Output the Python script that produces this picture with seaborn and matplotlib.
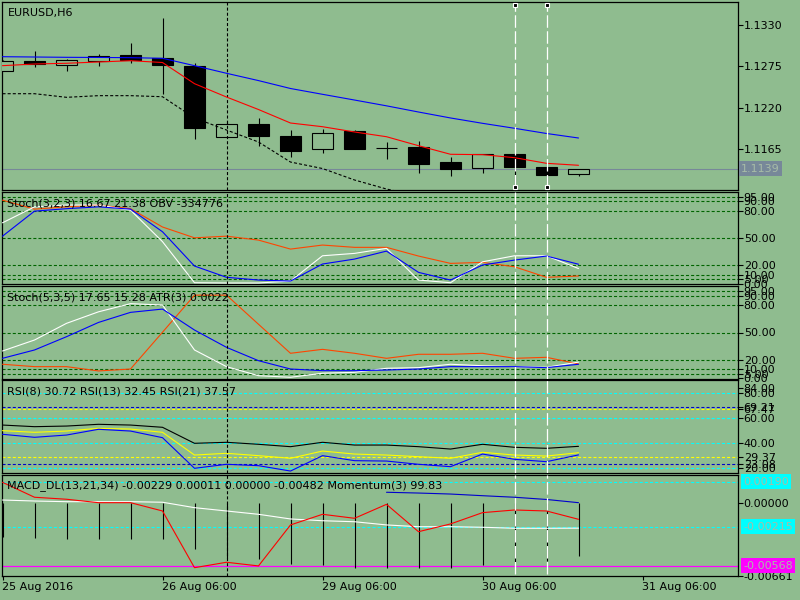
import numpy as np
import pandas as pd
import matplotlib
matplotlib.use("Agg")
import matplotlib.pyplot as plt
import matplotlib.transforms as mtransforms
import seaborn as sns

# EURUSD H6, 19 bars
bars = list(range(19))
opens = [1.12689, 1.12818, 1.12765, 1.12818, 1.12898, 1.12858, 1.12756, 1.11809, 1.11982, 1.11827,
         1.11650, 1.11889, 1.11672, 1.11681, 1.11477, 1.11406, 1.11588, 1.11415, 1.11326]
highs = [1.12830, 1.12955, 1.12845, 1.12915, 1.13061, 1.13393, 1.12792, 1.12012, 1.12066, 1.11906,
         1.11920, 1.11906, 1.11743, 1.11760, 1.11552, 1.11584, 1.11601, 1.11472, 1.11390]
lows = [1.12685, 1.12747, 1.12685, 1.12760, 1.12800, 1.12384, 1.11783, 1.11809, 1.11698, 1.11552,
        1.11597, 1.11658, 1.11525, 1.11339, 1.11300, 1.11339, 1.11154, 1.11207, 1.11300]
closes = [1.12826, 1.12782, 1.12831, 1.12885, 1.12835, 1.12765, 1.11929, 1.11982, 1.11831, 1.11631,
          1.11862, 1.11658, 1.11670, 1.11459, 1.11393, 1.11584, 1.11419, 1.11313, 1.11390]
ma_fast = [1.12760, 1.12782, 1.12792, 1.12809, 1.12826, 1.12802, 1.12521, 1.12344, 1.12178, 1.11999,
           1.11950, 1.11880, 1.11817, 1.11698, 1.11584, 1.11579, 1.11539, 1.11464, 1.11438]
ma_slow = [1.12879, 1.12875, 1.12871, 1.12869, 1.12866, 1.12858, 1.12760, 1.12659, 1.12562, 1.12457,
           1.12380, 1.12304, 1.12227, 1.12145, 1.12066, 1.11995, 1.11929, 1.11860, 1.11800]
lower_band = [1.12388, 1.12388, 1.12340, 1.12362, 1.12362, 1.12348, 1.12066, 1.11906, 1.11747, 1.11481,
              1.11395, 1.11243, 1.11123, 1.11030]
last_price = 1.1139
price_ticks = [1.1165, 1.1220, 1.1275, 1.1330]

# Stoch(3,2,3) + OBV
stoch1_main = [66.6, 84, 86, 86, 80.4, 46, 1.2, 0.9, 0.9, 3.0, 30.6, 33.2, 38.7, 4.1, 1.2, 24.0, 30.6, 30.6, 16.67]
stoch1_signal = [52, 79.3, 82, 84, 81.5, 56.8, 19.4, 7.1, 4.1, 3.0, 21.6, 27.0, 35.7, 12.5, 4.1, 20.5, 25.9, 30.3, 21.38]
obv = [91.3, 81.5, 84, 86, 82, 62, 50.2, 52, 47.7, 37.9, 42.3, 39.8, 39.8, 30.3, 22.3, 23.4, 18.6, 7.1, 8.5]

# Stoch(5,3,5) + ATR
stoch2_main = [29.8, 41.8, 60, 72.6, 81.5, 80, 30.9, 12.7, 2.8, 1.1, 5.5, 6.5, 10.9, 11.6, 15.3, 13.7, 12.7, 12.0, 17.65]
stoch2_signal = [21.8, 30.9, 45.4, 61, 72, 75.6, 52.7, 33.8, 19.2, 10.1, 8.3, 8.3, 9.0, 10.1, 12.7, 12.7, 12.7, 11.6, 15.28]
atr = [15.3, 12.7, 12.7, 8.0, 10.1, 50.3, 90.8, 90.8, 59.0, 27.3, 31.6, 27.3, 21.8, 26.2, 26.2, 27.3, 21.8, 22.9, 15.6]
stoch_levels = [95, 90, 80, 50, 20, 10, 5]
stoch_ticks = [0, 5, 10, 20, 50, 80, 90, 95]

# RSI(8), RSI(13), RSI(21)
rsi8 = [47.2, 44.8, 46.6, 51.2, 49.8, 44.5, 20.0, 23.2, 22.1, 17.8, 30.1, 26.1, 25.8, 23.2, 21.3, 31.4, 27.2, 25.3, 30.72]
rsi13 = [50.1, 48.8, 49.8, 52.0, 51.4, 48.8, 30.6, 32.0, 30.1, 28.0, 33.8, 31.4, 30.6, 29.3, 28.0, 32.8, 30.6, 29.8, 32.45]
rsi21 = [54.6, 53.3, 53.8, 55.2, 54.6, 52.8, 40.0, 40.8, 39.2, 37.3, 40.8, 38.6, 38.6, 37.3, 35.4, 39.2, 36.8, 36.0, 37.57]
rsi_cyan_levels = [80, 60, 40, 20]
rsi_blue_levels = [69.21, 23.08]
rsi_yellow_levels = [67.47, 29.37]
rsi_ticks = [20, 23.08, 29.37, 40, 60, 67.47, 69.21, 80, 84]

# MACD_DL(13,21,34) + Momentum(3)
macd_red = [0.00185, 0.00050, 0.00032, 0.00001, 0.00001, -0.00074, -0.00586, -0.00537, -0.00570, -0.00200,
            -0.00104, -0.00140, -0.00014, -0.00261, -0.00191, -0.00089, -0.00065, -0.00074, -0.00149]
macd_white = [0.00025, 0.00016, 0.00010, 0.00010, 0.00010, 0.00005, -0.00044, -0.00074, -0.00104, -0.00146,
              -0.00162, -0.00171, -0.00200, -0.00216, -0.00216, -0.00221, -0.00230, -0.00230, -0.00229]
macd_hist = [-0.00310, -0.00315, -0.00327, -0.00327, -0.00327, -0.00327, -0.00414, -0.00500, -0.00510, -0.00555,
             -0.00561, -0.00586, -0.00586, -0.00591, -0.00591, -0.00561, -0.00546, -0.00522, -0.00482]
momentum_bars = [12, 13, 14, 15, 16, 17, 18]
momentum = [0.00095, 0.00088, 0.00079, 0.00064, 0.00050, 0.00030, 0.00001]
macd_cyan_levels = [0.00190, -0.00215]
macd_magenta_level = -0.00568

date_ticks = [0, 5, 10, 15, 20]
date_labels = ['25 Aug 2016', '26 Aug 06:00', '29 Aug 06:00', '30 Aug 06:00', '31 Aug 06:00']
marked_bar = 7
selected_bars = [16, 17]

BG = '#8fbc8f'
sns.set_theme(style='white', rc={'axes.facecolor': BG, 'figure.facecolor': BG})
plt.rcParams['font.family'] = ['DejaVu Sans']
plt.rcParams['lines.scale_dashes'] = False
FS = 8
LW = 0.8
dot = (0, (2.2, 1.5))
long_dash = (0, (9, 2.5))

fig = plt.figure(figsize=(8, 6), dpi=100, facecolor=BG)
W, H = 800, 600
left, right = 2, 738
panels_px = [(2, 190), (192, 284), (286, 379), (380, 473), (474.5, 576)]
axes = []
for top, bot in panels_px:
    ax = fig.add_axes([left / W, 1 - bot / H, (right - left) / W, (bot - top) / H])
    axes.append(ax)
ax_main, ax_st1, ax_st2, ax_rsi, ax_macd = axes

xmin = -0.5 / 32
xmax = xmin + (right - left) / 32
for ax in axes:
    ax.set_facecolor(BG)
    for s in ax.spines.values():
        s.set_color('black')
        s.set_linewidth(0.9)
    ax.set_xlim(xmin, xmax)
    ax.yaxis.tick_right()
    ax.tick_params(axis='y', direction='out', length=3.6, width=0.8, pad=0.5,
                   labelsize=FS, colors='black')
    ax.tick_params(axis='x', bottom=False, labelbottom=False)
    ax.axvline(marked_bar, color='black', lw=LW, ls=dot, zorder=4)


def title(ax, txt, dx=5):
    tr = mtransforms.offset_copy(ax.transAxes, fig=fig, x=dx, y=-11, units='dots')
    ax.text(0, 1, txt, transform=tr, fontsize=FS, va='center', ha='left', color='black', zorder=6)


def side_box(ax, y, txt, face, dx=5):
    tr = mtransforms.blended_transform_factory(ax.transAxes, ax.transData)
    tr = mtransforms.offset_copy(tr, fig=fig, x=dx, y=0, units='dots')
    ax.text(1, y, txt, transform=tr, fontsize=FS, va='center', ha='left', color='#a7bca7',
            clip_on=False, zorder=7,
            bbox=dict(boxstyle='square,pad=0.22', facecolor=face, edgecolor='none'))


# ---- main candles
ax = ax_main
ax.axhline(last_price, color='#778899', lw=LW, zorder=1)
for i in bars:
    ax.vlines(i, lows[i], highs[i], color='black', lw=LW, zorder=2)
    lo, hi = min(opens[i], closes[i]), max(opens[i], closes[i])
    face = 'black' if closes[i] < opens[i] else BG
    ax.bar(i, max(hi - lo, 0.000005), bottom=lo, width=0.68, color=face,
           edgecolor='black', linewidth=LW, zorder=3)
sns.lineplot(x=bars, y=ma_slow, ax=ax, color='#0000ff', linewidth=LW, zorder=4)
sns.lineplot(x=bars, y=ma_fast, ax=ax, color='#ff0000', linewidth=LW, zorder=4)
sns.lineplot(x=bars[:len(lower_band)], y=lower_band, ax=ax, color='black', linewidth=LW,
             linestyle=dot, zorder=4)
ax.set_ylim(1.11110, 1.13605)
ax.set_yticks(price_ticks)
ax.set_yticklabels([f'{v:.4f}' for v in price_ticks])
side_box(ax, last_price, f'{last_price:.4f}', '#778899', dx=3)
for b in selected_bars:
    ax.axvline(b, ymin=0.016, ymax=0.984, color='white', lw=0.9, ls=long_dash, zorder=5)
    ax.plot([b, b], [0.016, 0.984], 's', transform=ax.get_xaxis_transform(), ms=3.5,
            mfc='black', mec='white', mew=0.8, zorder=6, clip_on=False)
title(ax, 'EURUSD,H6', dx=6)

# ---- Stochastics with OBV / ATR
for ax, main, sig, extra, txt in [
        (ax_st1, stoch1_main, stoch1_signal, obv, 'Stoch(3,2,3) 16.67 21.38 OBV -334776'),
        (ax_st2, stoch2_main, stoch2_signal, atr, 'Stoch(5,3,5) 17.65 15.28 ATR(3) 0.0022')]:
    for lv in stoch_levels:
        ax.axhline(lv, color='#006400', lw=LW, ls=dot, zorder=1)
    sns.lineplot(x=bars, y=extra, ax=ax, color='#ff4500', linewidth=LW, zorder=3)
    sns.lineplot(x=bars, y=main, ax=ax, color='white', linewidth=LW, zorder=3)
    sns.lineplot(x=bars, y=sig, ax=ax, color='#0000ff', linewidth=LW, zorder=3)
    title(ax, txt)
ax_st1.set_ylim(-0.2, 100.2)
ax_st2.set_ylim(-0.8, 100.8)
for ax in (ax_st1, ax_st2):
    ax.set_yticks(stoch_ticks)
    ax.set_yticklabels([f'{v:.2f}' for v in stoch_ticks])

# ---- RSI
ax = ax_rsi
for lv in rsi_cyan_levels:
    ax.axhline(lv, color='#00ffff', lw=LW, ls=dot, zorder=1)
for lv in rsi_blue_levels:
    ax.axhline(lv, color='#0000cd', lw=LW, ls=dot, zorder=1)
for lv in rsi_yellow_levels:
    ax.axhline(lv, color='#ffff00', lw=LW, ls=dot, zorder=1)
sns.lineplot(x=bars, y=rsi21, ax=ax, color='black', linewidth=LW, zorder=3)
sns.lineplot(x=bars, y=rsi13, ax=ax, color='#ffff00', linewidth=LW, zorder=3)
sns.lineplot(x=bars, y=rsi8, ax=ax, color='#0000ff', linewidth=LW, zorder=3)
ax.set_ylim(16.24, 90.64)
ax.set_yticks(rsi_ticks)
ax.set_yticklabels([f'{v:.2f}' for v in rsi_ticks])
title(ax, 'RSI(8) 30.72 RSI(13) 32.45 RSI(21) 37.57')

# ---- MACD + Momentum
ax = ax_macd
for lv in macd_cyan_levels:
    ax.axhline(lv, color='#00ffff', lw=LW, ls=dot, zorder=1)
ax.axhline(macd_magenta_level, color='#ff00ff', lw=0.9, zorder=1)
ax.vlines(bars, 0, macd_hist, color='black', lw=LW, zorder=2)
sns.lineplot(x=bars, y=macd_white, ax=ax, color='white', linewidth=LW, zorder=3)
sns.lineplot(x=bars, y=macd_red, ax=ax, color='#ff0000', linewidth=LW, zorder=3)
sns.lineplot(x=momentum_bars, y=momentum, ax=ax, color='#0000cd', linewidth=LW, zorder=3)
ax.set_ylim(-0.006606, 0.002554)
ax.set_yticks([0.0, -0.00661])
ax.set_yticklabels(['0.00000', '-0.00661'])
side_box(ax, macd_cyan_levels[0], f'{macd_cyan_levels[0]:.5f}', '#00ffff')
side_box(ax, macd_cyan_levels[1], f'{macd_cyan_levels[1]:.5f}', '#00ffff')
side_box(ax, macd_magenta_level, f'{macd_magenta_level:.5f}', '#ff00ff')
title(ax, 'MACD_DL(13,21,34) -0.00229 0.00011 0.00000 -0.00482 Momentum(3) 99.83')
ax.set_xticks(date_ticks)
ax.set_xticklabels(date_labels, ha='left')
ax.tick_params(axis='x', bottom=True, labelbottom=True, direction='out', length=3,
               width=0.8, pad=1, labelsize=FS, colors='black')

for ax in axes:
    ax.set_xlim(xmin, xmax)
    ax.set_xlabel('')
    ax.set_ylabel('')
    if ax is not ax_main:
        for b in selected_bars:
            ax.axvline(b, ymin=0.02 if ax is ax_macd else 0, color='white', lw=0.9,
                       ls=long_dash, zorder=5)

fig.savefig('out.png', dpi=100, facecolor=BG)
